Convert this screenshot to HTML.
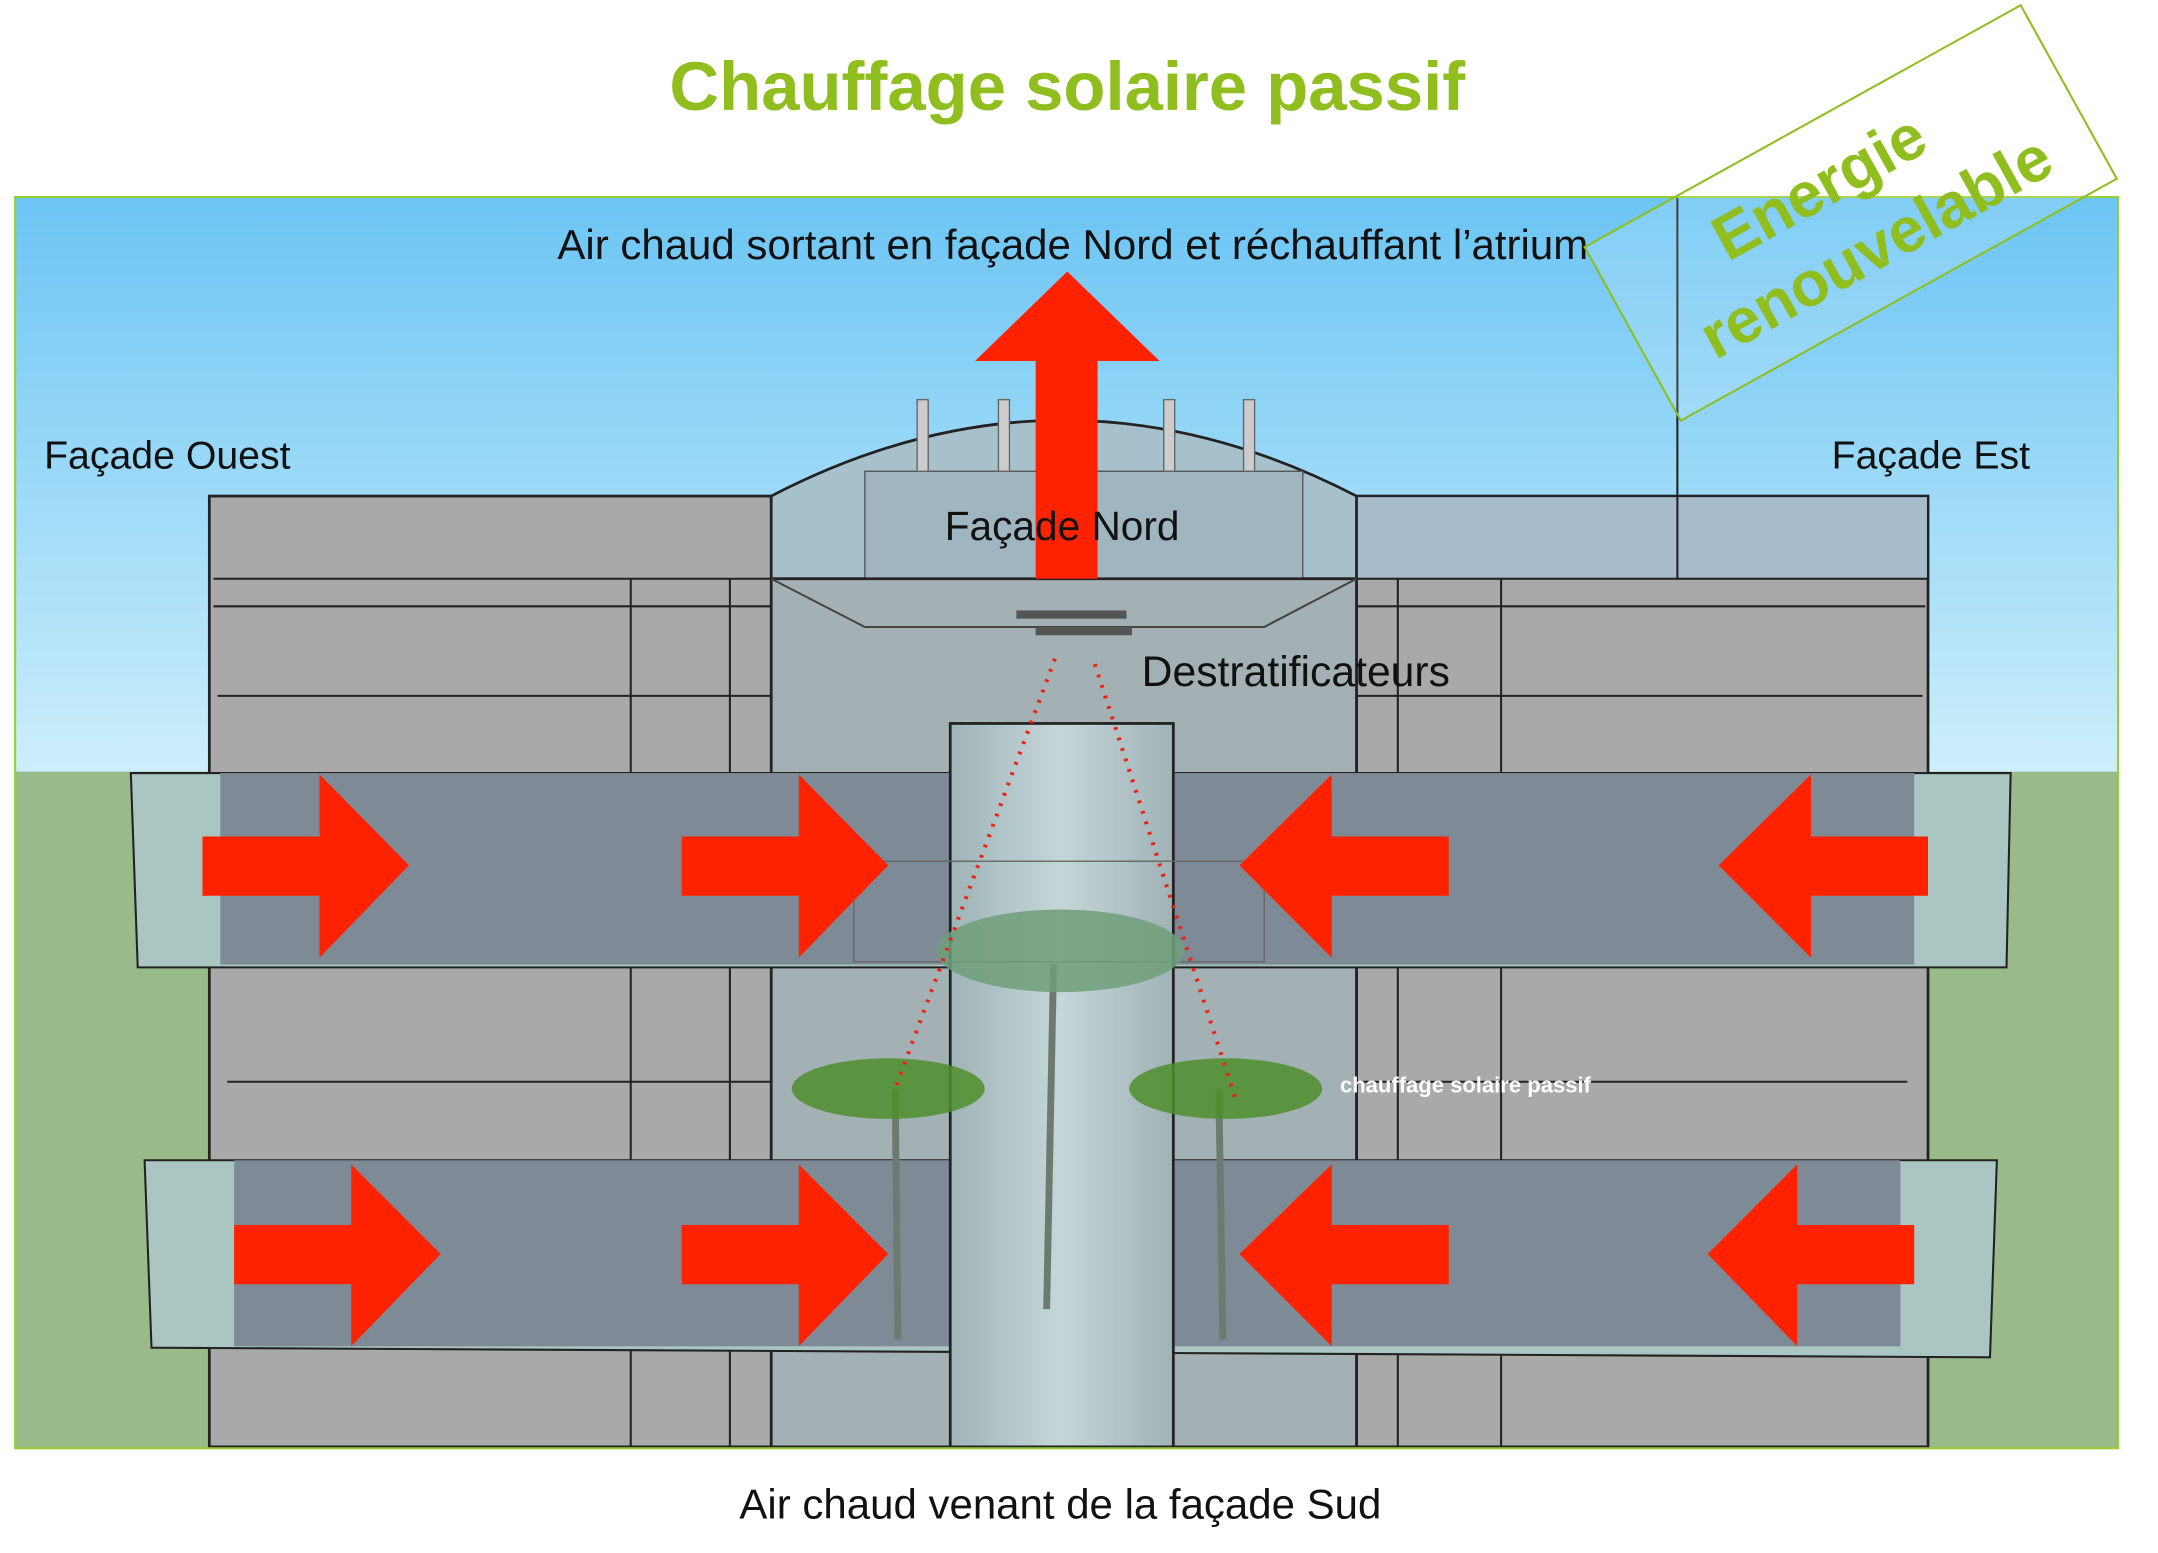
<!DOCTYPE html>
<html><head><meta charset="utf-8"><style>
html,body{margin:0;padding:0;background:#fff;}
svg{display:block;}
text{font-family:"Liberation Sans",sans-serif;}
</style></head><body>
<svg width="2158" height="1553" viewBox="0 0 1567 1127" preserveAspectRatio="none" xmlns="http://www.w3.org/2000/svg">
<defs>
<linearGradient id="sky" x1="0" y1="0" x2="0" y2="1">
<stop offset="0" stop-color="#6cc5f4"/><stop offset="1" stop-color="#cdeefb"/></linearGradient>
<linearGradient id="col" x1="0" y1="0" x2="1" y2="0">
<stop offset="0" stop-color="#9fb4b8"/><stop offset="0.5" stop-color="#c5d6d8"/><stop offset="1" stop-color="#9fb2b6"/></linearGradient>
</defs>
<rect width="1567" height="1127" fill="#fff"/>
<text x="775" y="80" text-anchor="middle" font-size="50" font-weight="bold" fill="#8fbe1e">Chauffage solaire passif</text>
<rect x="11" y="143" width="1527" height="418" fill="url(#sky)"/>
<rect x="11" y="560" width="1527" height="491" fill="#99bb89"/>
<rect x="152" y="360" width="410" height="690" fill="#a9a9a9" stroke="#222" stroke-width="2"/>
<rect x="985" y="360" width="415" height="690" fill="#a9a9a9" stroke="#222" stroke-width="2"/>
<rect x="985" y="360" width="415" height="60" fill="#a6bccb" stroke="#222" stroke-width="1.5"/>
<g stroke="#222" stroke-width="1.5" fill="none">
<line x1="155" y1="420" x2="560" y2="420"/><line x1="155" y1="440" x2="560" y2="440"/>
<line x1="158" y1="505" x2="560" y2="505"/><line x1="985" y1="440" x2="1398" y2="440"/>
<line x1="985" y1="505" x2="1396" y2="505"/><line x1="458" y1="420" x2="458" y2="1050"/>
<line x1="530" y1="420" x2="530" y2="1050"/><line x1="1015" y1="420" x2="1015" y2="1050"/>
<line x1="1090" y1="420" x2="1090" y2="1050"/><line x1="165" y1="785" x2="560" y2="785"/>
<line x1="985" y1="785" x2="1385" y2="785"/><line x1="1218" y1="143" x2="1218" y2="420"/>
</g>
<path d="M560 360 Q772 250 985 360 L985 420 L560 420 Z" fill="#a7c1cc" stroke="#222" stroke-width="2"/>
<rect x="628" y="342" width="318" height="78" fill="#9fb6c0" stroke="#555" stroke-width="1"/>
<rect x="560" y="420" width="425" height="630" fill="#a3b0b4" stroke="#222" stroke-width="2"/>
<path d="M560 420 L628 455 L918 455 L985 420" fill="none" stroke="#444" stroke-width="1.5"/>
<g fill="#ccc" stroke="#666"><rect x="666" y="290" width="8" height="52"/><rect x="725" y="290" width="8" height="52"/><rect x="845" y="290" width="8" height="52"/><rect x="903" y="290" width="8" height="52"/></g>
<polygon points="95,561 1460,561 1457,702 100,702" fill="#a9c6c3" stroke="#222" stroke-width="1.5"/>
<rect x="160" y="561" width="1230" height="139" fill="#7e8b97"/>
<polygon points="105,842 1450,842 1445,985 110,978" fill="#a9c6c3" stroke="#222" stroke-width="1.5"/>
<rect x="170" y="842" width="1210" height="135" fill="#7e8b97"/>
<rect x="690" y="525" width="162" height="525" fill="url(#col)" stroke="#222" stroke-width="2"/>
<rect x="620" y="625" width="298" height="73" fill="none" stroke="#666" stroke-width="1"/>
<g stroke="#6d7a6d" stroke-width="5"><line x1="650" y1="790" x2="652" y2="972"/><line x1="885" y1="790" x2="888" y2="972"/><line x1="765" y1="700" x2="760" y2="950"/></g>
<g fill="#4f8f2c" opacity="0.85">
<ellipse cx="645" cy="790" rx="70" ry="22"/><ellipse cx="890" cy="790" rx="70" ry="22"/>
<ellipse cx="770" cy="690" rx="90" ry="30" fill="#6f9f7a"/>
</g>
<rect x="738" y="443" width="80" height="6" fill="#555"/><rect x="752" y="455" width="70" height="6" fill="#555"/>
<g stroke="#ee2211" stroke-width="3" stroke-dasharray="2,6" fill="none">
<line x1="766" y1="478" x2="650" y2="790"/><line x1="795" y1="482" x2="898" y2="800"/></g>
<g fill="#ff2200">
<polygon points="752,420 797,420 797,262 842,262 775,197 708,262 752,262"/>
<polygon points="147,607 232,607 232,562 297,628 232,695 232,650 147,650"/>
<polygon points="495,607 580,607 580,562 645,628 580,695 580,650 495,650"/>
<polygon points="1052,607 967,607 967,562 900,628 967,695 967,650 1052,650"/>
<polygon points="1400,607 1315,607 1315,562 1248,628 1315,695 1315,650 1400,650"/>
<polygon points="170,889 255,889 255,845 320,910 255,977 255,932 170,932"/>
<polygon points="495,889 580,889 580,845 645,910 580,977 580,932 495,932"/>
<polygon points="1052,889 967,889 967,845 900,910 967,977 967,932 1052,932"/>
<polygon points="1390,889 1305,889 1305,845 1240,910 1305,977 1305,932 1390,932"/>
</g>
<rect x="11" y="143" width="1527" height="908" fill="none" stroke="#9c3" stroke-width="1.5"/>
<g fill="#111">
<text x="779" y="188" text-anchor="middle" font-size="30.5">Air chaud sortant en façade Nord et réchauffant l’atrium</text>
<text x="32" y="340" font-size="28.5">Façade Ouest</text>
<text x="1330" y="340" font-size="28.5">Façade Est</text>
<text x="686" y="392" font-size="29.5">Façade Nord</text>
<text x="829" y="498" font-size="31">Destratificateurs</text>
</g>
<text x="973" y="793" font-size="16" font-weight="bold" fill="#fff">chauffage solaire passif</text>
<text x="770" y="1102" text-anchor="middle" font-size="30.5" fill="#111">Air chaud venant de la façade Sud</text>
<g transform="translate(1343,155) rotate(-29)">
<rect x="-180" y="-72" width="362" height="144" fill="rgba(255,255,255,0.15)" stroke="#8fbe1e" stroke-width="1.5"/>
<text x="-10" y="-12" text-anchor="middle" font-size="46" font-weight="bold" fill="#8fbe1e">Energie</text>
<text x="5" y="46" text-anchor="middle" font-size="46" font-weight="bold" fill="#8fbe1e">renouvelable</text>
</g>
</svg>
</body></html>
